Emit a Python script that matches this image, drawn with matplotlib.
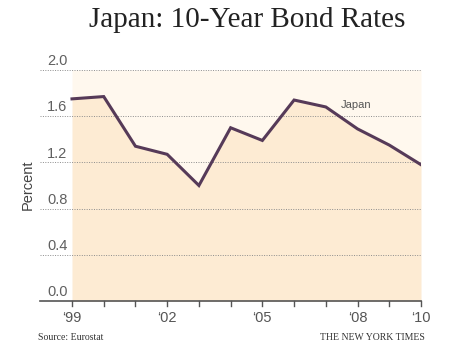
import matplotlib
matplotlib.use("Agg")
import matplotlib.pyplot as plt
import matplotlib.transforms as mtransforms

years = [1999, 2000, 2001, 2002, 2003, 2004, 2005, 2006, 2007, 2008, 2009, 2010]
rates = [1.75, 1.77, 1.34, 1.27, 1.00, 1.50, 1.39, 1.74, 1.68, 1.49, 1.35, 1.18]
yticks = [0.0, 0.4, 0.8, 1.2, 1.6, 2.0]
xtick_years = [1999, 2002, 2005, 2008, 2010]
xtick_labels = ["\u201899", "\u201802", "\u201805", "\u201808", "\u201810"]

W, H = 460, 357
fig = plt.figure(figsize=(W / 100, H / 100), dpi=100)

left_px, right_px, top_px, bottom_px = 40, 421, 70, 301
ax = fig.add_axes([left_px / W, 1 - bottom_px / H, (right_px - left_px) / W, (bottom_px - top_px) / H])
px_per_year = (421 - 72) / 11
ax.set_xlim(1999 - (72 - left_px) / px_per_year, 2010)
ax.set_ylim(0, 2.0)
ax.axis("off")

sans = ["Liberation Sans", "DejaVu Sans"]
serif = ["Liberation Serif", "DejaVu Serif"]

ax.fill_between(years, rates, 2.0, color="#fff8ee", lw=0, zorder=1)
ax.fill_between(years, 0, rates, color="#fdebd3", lw=0, zorder=1)

for v in yticks[1:]:
    ax.axhline(v, color="#8c8c8c", lw=0.7, ls=(0, (1, 1.5)), zorder=2)

ax.plot(years, rates, color="#563a58", lw=2.2, zorder=4, solid_joinstyle="miter")

# x axis line and ticks
ax.axhline(0, color="#555555", lw=1.2, zorder=5, clip_on=False)
trans = mtransforms.blended_transform_factory(ax.transData, ax.transAxes)
for y in years:
    ax.plot([y, y], [0, -0.022], transform=trans, color="#555555", lw=1.0, clip_on=False, zorder=5)
for y, lab in zip(xtick_years, xtick_labels):
    ax.text(y, -0.045, lab, transform=trans, ha="center", va="top", fontsize=10.5,
            color="#555555", family=sans)

# y tick labels above gridlines
ytrans = mtransforms.blended_transform_factory(ax.transAxes, ax.transData)
for v in yticks:
    ax.text((47 - left_px) / (right_px - left_px), v + 0.015, f"{v:.1f}", transform=ytrans,
            ha="left", va="bottom", fontsize=10.5, color="#606060", family=sans)

fig.text(28 / W, 1 - 185 / H, "Percent", rotation=90, ha="center", va="center",
         fontsize=10.5, color="#444444", family=sans)

ax.text(2007.95, 1.70, "Japan", ha="center", va="center", fontsize=8, color="#555555", family=sans, zorder=6)

fig.text(247 / W, 1 - 20 / H, "Japan: 10-Year Bond Rates", ha="center", va="center",
         fontsize=21, color="#222222", family=serif)
fig.text(38 / W, 1 - 338 / H, "Source: Eurostat", ha="left", va="center",
         fontsize=7, color="#333333", family=serif)
fig.text(425 / W, 1 - 338 / H, "THE NEW YORK TIMES", ha="right", va="center",
         fontsize=7, color="#333333", family=serif)

fig.savefig("out.png", dpi=100)
